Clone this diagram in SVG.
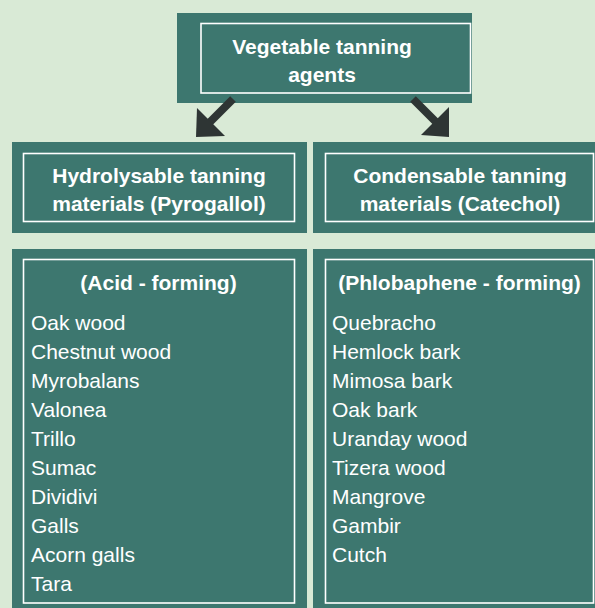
<svg xmlns="http://www.w3.org/2000/svg" width="595" height="608" viewBox="0 0 595 608">
<style>
.box{fill:#3d776f}
.frame{fill:none;stroke:#ffffff;stroke-width:1.6}
.hd{font-family:"Liberation Sans",Arial,sans-serif;font-weight:bold;font-size:21px;fill:#ffffff;text-anchor:middle}
.it{font-family:"Liberation Sans",Arial,sans-serif;font-size:21px;fill:#ffffff}
.shaft{stroke:#2e3534;stroke-width:8;fill:none}
.head{fill:#2e3534}
</style>
<rect width="595" height="608" fill="#d9ead6"/>
<g id="top">
<rect class="box" x="177" y="13" width="295" height="90"/>
<rect class="frame" x="201" y="23.5" width="269.5" height="69.5"/>
<text class="hd" x="322" y="54">Vegetable tanning</text>
<text class="hd" x="322" y="82">agents</text>
</g>
<g id="connectors">
<line class="shaft" x1="233" y1="99" x2="208" y2="124"/>
<polygon class="head" points="196,137 197,108 225,136"/>
<line class="shaft" x1="413" y1="99" x2="438" y2="124"/>
<polygon class="head" points="449,137 449,107 421,135"/>
</g>
<g id="hydrolysable">
<rect class="box" x="12" y="142" width="295" height="91"/>
<rect class="frame" x="23.5" y="153.5" width="271" height="68"/>
<text class="hd" x="159" y="183">Hydrolysable tanning</text>
<text class="hd" x="159" y="211">materials (Pyrogallol)</text>
</g>
<g id="condensable">
<rect class="box" x="313" y="142" width="282" height="91"/>
<rect class="frame" x="325.5" y="153.5" width="268" height="68"/>
<text class="hd" x="460" y="183">Condensable tanning</text>
<text class="hd" x="460" y="211">materials (Catechol)</text>
</g>
<g id="acid">
<rect class="box" x="12" y="249" width="295" height="359"/>
<rect class="frame" x="23.5" y="259.5" width="271" height="343.5"/>
<text class="hd" x="158.5" y="290">(Acid - forming)</text>
<text class="it" x="31" y="330">Oak wood</text>
<text class="it" x="31" y="359">Chestnut wood</text>
<text class="it" x="31" y="388">Myrobalans</text>
<text class="it" x="31" y="417">Valonea</text>
<text class="it" x="31" y="446">Trillo</text>
<text class="it" x="31" y="475">Sumac</text>
<text class="it" x="31" y="504">Dividivi</text>
<text class="it" x="31" y="533">Galls</text>
<text class="it" x="31" y="562">Acorn galls</text>
<text class="it" x="31" y="591">Tara</text>
</g>
<g id="phlobaphene">
<rect class="box" x="313" y="249" width="282" height="359"/>
<rect class="frame" x="325.5" y="259.5" width="268" height="343.5"/>
<text class="hd" x="459.5" y="290">(Phlobaphene - forming)</text>
<text class="it" x="332" y="330">Quebracho</text>
<text class="it" x="332" y="359">Hemlock bark</text>
<text class="it" x="332" y="388">Mimosa bark</text>
<text class="it" x="332" y="417">Oak bark</text>
<text class="it" x="332" y="446">Uranday wood</text>
<text class="it" x="332" y="475">Tizera wood</text>
<text class="it" x="332" y="504">Mangrove</text>
<text class="it" x="332" y="533">Gambir</text>
<text class="it" x="332" y="562">Cutch</text>
</g>
</svg>
